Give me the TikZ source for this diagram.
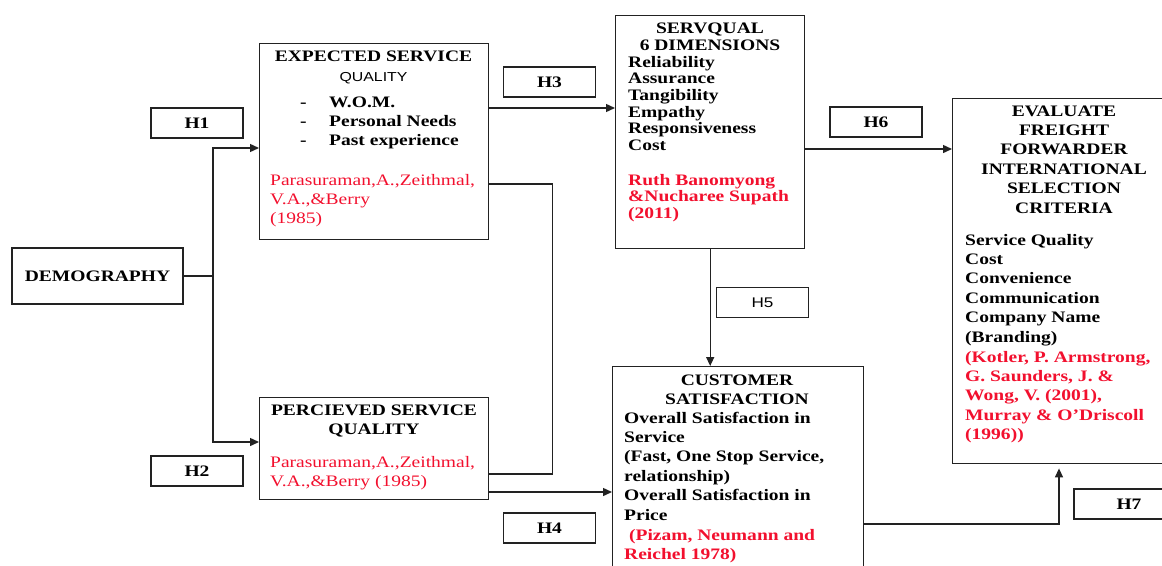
\documentclass[tikz,border=0pt]{standalone}
\usepackage{fontspec}
\setmainfont[FakeStretch=1.22]{Liberation Serif}
\newfontfamily\hsans[FakeStretch=1.22]{Liberation Sans}
\usetikzlibrary{arrows.meta}
\definecolor{refred}{HTML}{F2102E}
\definecolor{edgec}{HTML}{222222}
\newcommand\bodyf{\fontsize{16}{19.4}\selectfont}
% stacks whose baseline is the first line
\newcommand\lstack[1]{\begin{tabular}[t]{@{}l@{}}#1\end{tabular}}
\newcommand\cstack[1]{\begin{tabular}[t]{@{}c@{}}#1\end{tabular}}
\tikzset{
  box/.style={draw=edgec,line width=1.4pt,inner sep=0pt,anchor=north west},
  hbox/.style={draw=edgec,line width=1.4pt,inner sep=0pt,minimum width=92pt,minimum height=30pt,font=\bodyf\bfseries},
  ar/.style={-{Triangle[length=9pt,width=8pt]},line width=1.4pt,edgec},
  ln/.style={line width=1.4pt,edgec},
  txt/.style={inner sep=0pt,anchor=base west,font=\bodyf\bfseries},
  ttl/.style={inner sep=0pt,anchor=base,font=\bodyf\bfseries},
  cite/.style={txt,text=refred,font=\bodyf},
  citeb/.style={txt,text=refred}
}
\begin{document}
\begin{tikzpicture}[x=1pt,y=-1pt]
\useasboundingbox (0,0) rectangle (1162,565);
\clip (0,0) rectangle (1162,565);

% boxes
\node[hbox,minimum width=171pt,minimum height=56pt] (demo) at (97.5,276) {DEMOGRAPHY};
\node[box,minimum width=229pt,minimum height=196pt] (expq) at (259,43) {};
\node[box,minimum width=229pt,minimum height=102pt] (percq) at (259,397) {};
\node[box,minimum width=189pt,minimum height=233pt] (servq) at (615,15) {};
\node[box,minimum width=251pt,minimum height=250pt] (custs) at (612,366) {};
\node[box,minimum width=230pt,minimum height=365pt] (evalc) at (952,98) {};

% hypothesis labels
\node[hbox] (h1) at (197,123) {H1};
\node[hbox] (h2) at (197,471) {H2};
\node[hbox] (h3) at (549.5,82) {H3};
\node[hbox] (h4) at (549.5,528) {H4};
\node[hbox,font=\fontsize{14}{16}\hsans] (h5) at (762.5,302.5) {H5};
\node[hbox] (h6) at (876,122) {H6};
\node[hbox,minimum width=110pt] (h7) at (1129,504) {H7};

% expected service quality
\node[ttl] (expq-t) at (373.5,61) {EXPECTED SERVICE};
\node[ttl,font=\fontsize{13}{15}\hsans] (expq-q) at (373.5,81.5) {QUALITY};
\node[txt] (expq-d) at (300,107) {\lstack{-\\-\\-}};
\node[txt] (expq-l) at (329,107) {\lstack{W.O.M.\\Personal Needs\\Past experience}};
\node[cite] (expq-c) at (270,185) {\lstack{Parasuraman,A.,Zeithmal,\\V.A.,\&Berry\\(1985)}};

% percieved service quality
\node[ttl] (percq-t) at (374,415) {\cstack{PERCIEVED SERVICE\\QUALITY}};
\node[cite] (percq-c) at (270,467) {\lstack{Parasuraman,A.,Zeithmal,\\V.A.,\&Berry (1985)}};

% servqual
\node[ttl,font=\fontsize{16}{17}\selectfont\bfseries] (servq-t) at (710,33) {\cstack{SERVQUAL\\6 DIMENSIONS}};
\node[txt,font=\fontsize{16}{16.7}\selectfont\bfseries] (servq-l) at (628,67)
  {\lstack{Reliability\\Assurance\\Tangibility\\Empathy\\Responsiveness\\Cost}};
\node[citeb,font=\fontsize{16}{16.7}\selectfont\bfseries] (servq-c) at (628,185)
  {\lstack{Ruth Banomyong\\\&Nucharee Supath\\(2011)}};

% customer satisfaction
\node[ttl] (custs-t) at (737,385) {\cstack{CUSTOMER\\SATISFACTION}};
\node[txt] (custs-l) at (624,423) {\lstack{Overall Satisfaction in\\Service\\(Fast, One Stop Service,\\relationship)\\Overall Satisfaction in\\Price}};
\node[citeb] (custs-c) at (624,540) {\lstack{\ (Pizam, Neumann and\\Reichel 1978)}};

% evaluation criteria
\node[ttl] (evalc-t) at (1064,116) {\cstack{EVALUATE\\FREIGHT\\FORWARDER\\INTERNATIONAL\\SELECTION\\CRITERIA}};
\node[txt] (evalc-l) at (965,245) {\lstack{Service Quality\\Cost\\Convenience\\Communication\\Company Name\\(Branding)}};
\node[citeb] (evalc-c) at (965,362) {\lstack{(Kotler, P. Armstrong,\\G. Saunders, J. \&\\Wong, V. (2001),\\Murray \& O'Driscoll\\(1996))}};

% connectors
\coordinate (split) at (213,276);
\draw[ln] (demo.east) -- (split);
\draw[ar] (split) |- ([yshift=-105pt]expq.north west);
\draw[ar] (split) |- ([yshift=-45pt]percq.north west);
\draw[ar] ([yshift=-65pt]expq.north east) coordinate (e3) -- (e3 -| servq.west);
\draw[ln] ([yshift=-141pt]expq.north east) -- ++(63,0) |- ([yshift=-77pt]percq.north east);
\draw[ar] ([yshift=-95pt]percq.north east) coordinate (e4) -- (e4 -| custs.west);
\draw[ar] (servq.south) -- (servq.south |- custs.north);
\draw[ar] ([yshift=-134pt]servq.north east) coordinate (e6) -- (e6 -| evalc.west);
\draw[ar,shorten >=4pt] ([yshift=-158pt]custs.north east) -| ([xshift=107pt]evalc.south west);
\end{tikzpicture}
\end{document}
